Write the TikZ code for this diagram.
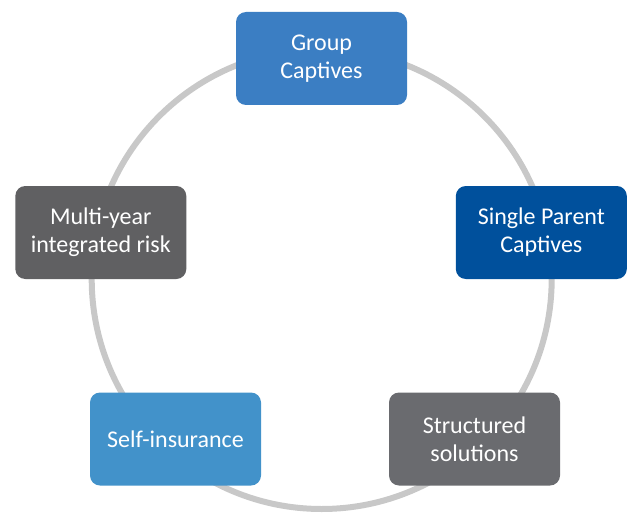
\documentclass[tikz,border=0pt]{standalone}
\usepackage{fontspec}
\setmainfont{Carlito}
\usetikzlibrary{positioning}

\definecolor{grpblue}{RGB}{59,126,195}
\definecolor{spcblue}{RGB}{0,80,156}
\definecolor{selfblue}{RGB}{66,146,202}
\definecolor{darkgrey}{RGB}{96,96,98}
\definecolor{midgrey}{RGB}{106,107,111}
\definecolor{ringgrey}{RGB}{200,200,200}

\begin{document}
\begin{tikzpicture}[
    x=1pt, y=-1pt,
    box/.style={rounded corners=10pt, align=center, text=white,
                font=\fontsize{24}{28}\selectfont,
                minimum width=171pt, minimum height=93pt, inner sep=2pt},
    ring/.style={draw=ringgrey, line width=6pt}
  ]
  \clip (0,0) rectangle (628,513);
  \coordinate (ctr) at (321.7,279);

  % the cycle behind the boxes
  \draw[ring] (ctr) circle (230pt);

  \node[box, fill=grpblue] (grp) at (321.5,58.5) {Group\\Captives};
  \node[box, fill=spcblue] (spc) at (541.3,232.5) {Single Parent\\Captives};
  \node[box, fill=darkgrey] (myr) at (100.8,232.5) {Multi-year\\integrated risk};
  \node[box, fill=selfblue] (sins) at (175.5,439) {Self-insurance};
  \node[box, fill=midgrey] (strc) at (474.5,439) {Structured\\solutions};
\end{tikzpicture}
\end{document}
